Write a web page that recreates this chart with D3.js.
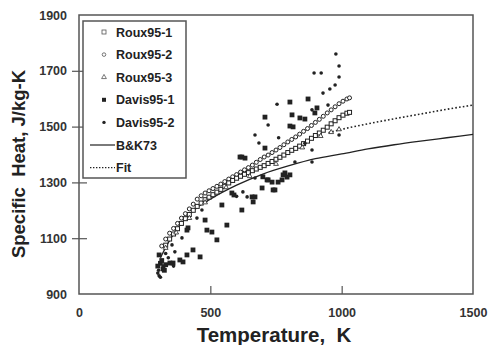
<!DOCTYPE html>
<html><head><meta charset="utf-8">
<script src="https://cdn.jsdelivr.net/npm/d3@7"></script>
<style>body{margin:0;background:#fff}svg{display:block}</style>
</head><body><svg id="c" width="492" height="345"></svg>
<script>
const xTicks = [0, 500, 1000, 1500];
const yTicks = [900, 1100, 1300, 1500, 1700, 1900];
const seriesNames = ["Roux95-1","Roux95-2","Roux95-3","Davis95-1","Davis95-2","B&K73","Fit"];

const roux1 = [[330,1075],[345,1097],[360,1115],[375,1134],[390,1153],[405,1170],[420,1185],[435,1200],[450,1214],[465,1226],[480,1238],[495,1247],[510,1256],[525,1265],[540,1275],[555,1286],[570,1298],[585,1307],[600,1315],[615,1322],[630,1329],[645,1335],[660,1342],[675,1348],[690,1354],[705,1360],[720,1368],[735,1375],[750,1383],[765,1390],[780,1398],[795,1407],[810,1415],[825,1422],[840,1430],[855,1439],[870,1448],[885,1458],[900,1468],[915,1477],[930,1487],[945,1498],[960,1510],[975,1521],[990,1532],[1005,1541],[1020,1548],[1030,1551]];
const roux2 = [[315,1072],[330,1097],[345,1118],[360,1135],[375,1153],[390,1172],[405,1188],[420,1205],[435,1222],[450,1240],[465,1252],[480,1262],[495,1270],[510,1278],[525,1286],[540,1294],[555,1303],[570,1312],[585,1320],[600,1328],[615,1337],[630,1345],[645,1353],[660,1362],[675,1372],[690,1382],[705,1391],[720,1398],[735,1407],[750,1416],[765,1425],[780,1435],[795,1445],[810,1454],[825,1463],[840,1473],[855,1483],[870,1493],[885,1504],[900,1515],[915,1526],[930,1537],[945,1549],[960,1560],[975,1571],[990,1582],[1005,1591],[1020,1599],[1030,1603]];
const roux3 = [[330,1065],[370,1120],[420,1172],[480,1228],[560,1282],[650,1322],[750,1366],[850,1425],[920,1466],[960,1480],[990,1490]];
const davis1 = [[300,1000],[305,1040],[310,1010],[315,1020],[320,990],[325,985],[330,1005],[346,1011],[358,1011],[384,1022],[396,1015],[411,1040],[434,1058],[461,1033],[411,1129],[415,1137],[487,1129],[506,1122],[480,1165],[525,1094],[563,1147],[544,1219],[582,1262],[590,1255],[613,1391],[620,1391],[632,1387],[620,1201],[663,1230],[659,1248],[670,1248],[697,1280],[700,1320],[716,1309],[720,1309],[735,1301],[739,1273],[746,1273],[758,1301],[773,1309],[784,1334],[792,1319],[803,1327],[708,1534],[803,1588],[872,1599],[811,1542],[841,1531],[860,1527],[803,1502],[815,1499],[906,1567],[898,1549],[708,1423],[777,1327]];
const davis2 = [[978,1760],[990,1717],[990,1678],[895,1692],[922,1692],[955,1635],[975,1649],[929,1620],[754,1580],[720,1506],[887,1560],[670,1470],[685,1441],[948,1577],[990,1470],[887,1416],[887,1373],[822,1373],[670,1316],[624,1266],[640,1248],[468,1201],[449,1172],[392,1101],[365,1051],[354,1076],[300,975],[305,965],[310,960],[303,985],[320,1000],[340,1030],[360,1000],[330,1045],[632,1387],[600,1250],[860,1440],[760,1460]];
const bk73 = [[310,1030],[350,1100],[400,1165],[450,1210],[500,1240],[600,1290],[700,1330],[800,1360],[900,1385],[1000,1402],[1100,1420],[1200,1435],[1300,1448],[1400,1460],[1500,1472]];
const fit = [[950,1478],[1000,1490],[1100,1510],[1200,1528],[1300,1545],[1400,1562],[1500,1577]];

const svg = d3.select("#c");
const L = 79, R = 473, T = 15, B = 294;
const x = d3.scaleLinear().domain([0,1500]).range([L,R]);
const y = d3.scaleLinear().domain([900,1900]).range([B,T]);
const ink = "#222", frame = "#555";
const FF = "Liberation Sans, Arial, sans-serif";

svg.append("rect").attr("x",L).attr("y",T).attr("width",R-L).attr("height",B-T)
  .attr("fill","none").attr("stroke",frame).attr("stroke-width",1.5);

const ya = svg.append("g").attr("transform",`translate(${L},0)`)
  .call(d3.axisLeft(y).tickValues(yTicks).tickSize(7).tickPadding(5).tickFormat(d3.format("d")));
ya.select(".domain").remove();
ya.selectAll(".tick line").attr("x2",8).attr("x1",-7).attr("stroke",frame).attr("stroke-width",1.2);
ya.selectAll(".tick").filter(d=>d===900||d===1900).select("line").remove();
ya.selectAll("text").attr("font-family",FF).attr("font-size",12.5).attr("font-weight","bold").attr("fill","#333");

const xa = svg.append("g").attr("transform",`translate(0,${B})`)
  .call(d3.axisBottom(x).tickValues(xTicks).tickSize(0).tickPadding(14).tickFormat(d3.format("d")));
xa.select(".domain").remove();
xa.selectAll(".tick").filter(d=>d===500||d===1000).append("line").attr("y1",0).attr("y2",-8).attr("stroke",frame).attr("stroke-width",1.2);
xa.selectAll("text").attr("font-family",FF).attr("font-size",12.5).attr("font-weight","bold").attr("fill","#333");

svg.append("text").attr("transform",`translate(25,${164}) rotate(-90)`).attr("text-anchor","middle")
  .attr("font-family",FF).attr("font-weight","bold").attr("font-size",18.5).attr("fill",ink)
  .attr("xml:space","preserve").text("Specific  Heat, J/kg-K");
svg.append("text").attr("x",274).attr("y",342).attr("text-anchor","middle")
  .attr("font-family",FF).attr("font-weight","bold").attr("font-size",20.5).attr("fill",ink)
  .attr("xml:space","preserve").text("Temperature,  K");

const line = d3.line().x(d=>x(d[0])).y(d=>y(d[1])).curve(d3.curveMonotoneX);
svg.append("path").datum(bk73).attr("d",line).attr("fill","none").attr("stroke",ink).attr("stroke-width",1.3);
svg.append("path").datum(fit).attr("d",line).attr("fill","none").attr("stroke",ink).attr("stroke-width",1.6).attr("stroke-dasharray","1.6,2.2");

const g = svg.append("g");
function sq(sel, data, s, filled){
  sel.selectAll(null).data(data).enter().append("rect")
    .attr("x",d=>x(d[0])-s/2).attr("y",d=>y(d[1])-s/2).attr("width",s).attr("height",s)
    .attr("fill",filled?ink:"#fff").attr("stroke",ink).attr("stroke-width",filled?0:1);
}
function ci(sel, data, r, filled){
  sel.selectAll(null).data(data).enter().append("circle")
    .attr("cx",d=>x(d[0])).attr("cy",d=>y(d[1])).attr("r",r)
    .attr("fill",filled?ink:"#fff").attr("stroke",ink).attr("stroke-width",filled?0:1);
}
function tri(sel, data, s){
  const sym = d3.symbol().type(d3.symbolTriangle).size(s);
  sel.selectAll(null).data(data).enter().append("path").attr("d",sym)
    .attr("transform",d=>`translate(${x(d[0])},${y(d[1])})`).attr("fill","#fff").attr("stroke",ink).attr("stroke-width",0.8);
}
ci(g.append("g"), roux2, 2, false);
sq(g.append("g"), roux1, 4, false);
tri(g.append("g"), roux3, 10);
sq(g.append("g"), davis1, 4.8, true);
ci(g.append("g"), davis2, 1.8, true);

const lg = svg.append("g");
lg.append("rect").attr("x",83).attr("y",21).attr("width",103).attr("height",157)
  .attr("fill","#fff").attr("stroke",frame).attr("stroke-width",1.5);
const ly = i => 32 + i*22.6;
const lx = 104;
lg.append("rect").attr("x",lx-2).attr("y",ly(0)-2).attr("width",4).attr("height",4).attr("fill","#fff").attr("stroke","#555").attr("stroke-width",0.8);
lg.append("circle").attr("cx",lx).attr("cy",ly(1)).attr("r",1.8).attr("fill","#fff").attr("stroke","#555").attr("stroke-width",0.8);
lg.append("path").attr("d",d3.symbol().type(d3.symbolTriangle).size(10)).attr("transform",`translate(${lx},${ly(2)})`).attr("fill","#fff").attr("stroke","#555").attr("stroke-width",0.8);
lg.append("rect").attr("x",lx-2).attr("y",ly(3)-2).attr("width",4).attr("height",4).attr("fill",ink);
lg.append("circle").attr("cx",lx).attr("cy",ly(4)).attr("r",1.7).attr("fill",ink);
lg.append("line").attr("x1",90).attr("x2",115).attr("y1",ly(5)).attr("y2",ly(5)).attr("stroke",ink).attr("stroke-width",1.2);
lg.append("line").attr("x1",90).attr("x2",115).attr("y1",ly(6)).attr("y2",ly(6)).attr("stroke",ink).attr("stroke-width",1.3).attr("stroke-dasharray","1.4,1.6");
lg.selectAll(null).data(seriesNames).enter().append("text")
  .attr("x",116).attr("y",(d,i)=>ly(i)+4.5)
  .attr("font-family",FF).attr("font-weight","bold").attr("font-size",12.5).attr("fill",ink)
  .text(d=>d);
</script></body></html>
